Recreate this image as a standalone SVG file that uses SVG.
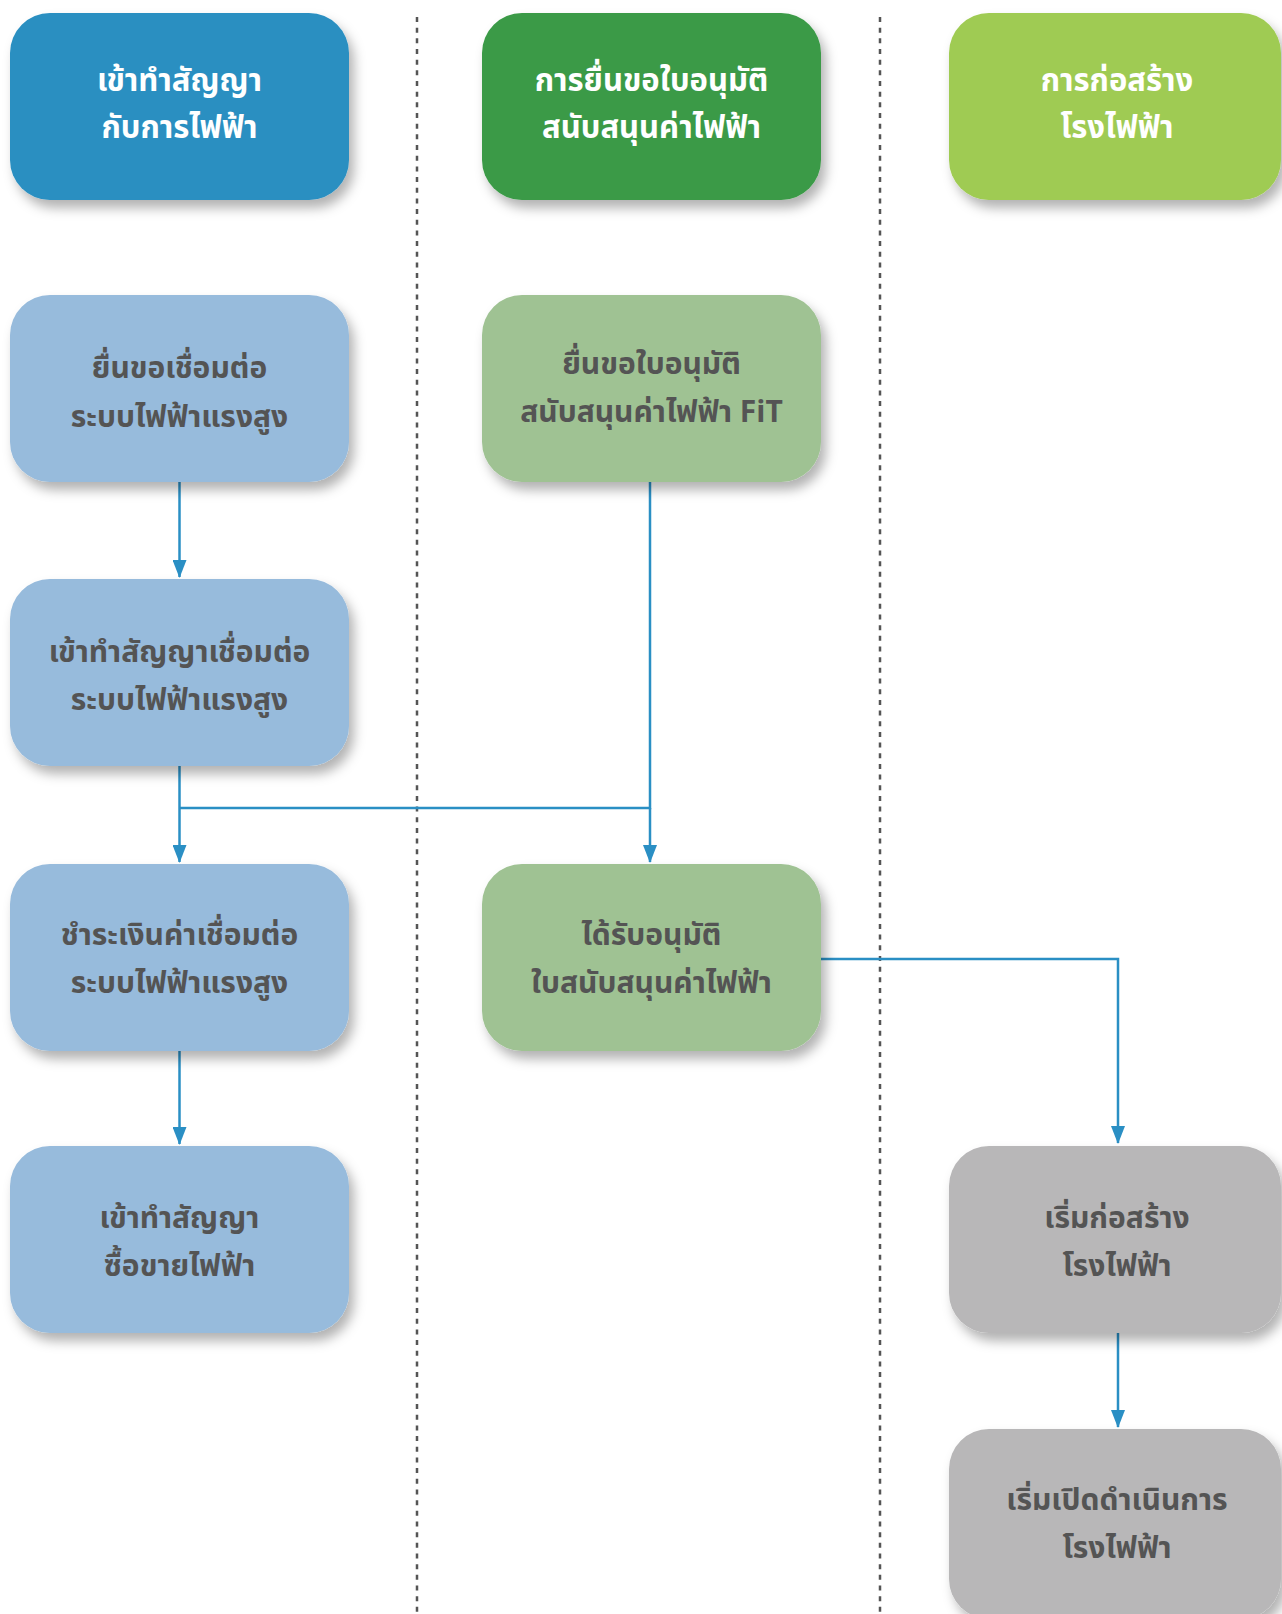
<svg xmlns="http://www.w3.org/2000/svg" width="1282" height="1614" viewBox="0 0 1282 1614">
<style>
.box{filter:url(#sh)}
.t{font-family:"Noto Sans Thai","Noto Sans","DejaVu Sans",sans-serif;font-weight:bold;font-size:30px;text-anchor:middle}
.w{fill:#ffffff;font-size:31px}
.d{fill:#545454}
.c{fill:none;stroke:#2a8fc4;stroke-width:2.5}
.c.a{marker-end:url(#ar)}
.dv{fill:none;stroke:#555555;stroke-width:2.5;stroke-dasharray:5 5.67}
</style>
<defs>
<filter id="sh" x="-20%" y="-20%" width="150%" height="160%">
<feDropShadow dx="5" dy="8" stdDeviation="6" flood-color="#000" flood-opacity="0.3"/>
</filter>
<marker id="ar" markerUnits="userSpaceOnUse" markerWidth="18" markerHeight="14" viewBox="0 0 18 14" refX="17" refY="7" orient="auto">
<path d="M0,0 L18,7 L0,14 Z" fill="#2a8fc4"/>
</marker>
</defs>
<g id="dividers">
<line class="dv" x1="417" y1="17" x2="417" y2="1614"/>
<line class="dv" x1="880" y1="17" x2="880" y2="1614"/>
</g>
<g id="connectors">
<line class="c a" x1="179.5" y1="482" x2="179.5" y2="577"/>
<polyline class="c" points="650,482 650,808 179.5,808"/>
<line class="c a" x1="179.5" y1="766" x2="179.5" y2="862"/>
<line class="c a" x1="650" y1="808" x2="650" y2="862"/>
<line class="c a" x1="179.5" y1="1051" x2="179.5" y2="1144"/>
<polyline class="c a" points="821,959 1118,959 1118,1143"/>
<line class="c a" x1="1118" y1="1333" x2="1118" y2="1427"/>
</g>
<g id="h1"><rect class="box" x="10" y="13" width="339" height="187" rx="40" fill="#2a8fc1"/>
<text class="t w" x="179.5" y="91">เข้าทำสัญญา</text><text class="t w" x="179.5" y="138">กับการไฟฟ้า</text></g>
<g id="h2"><rect class="box" x="482" y="13" width="339" height="187" rx="40" fill="#3a9a46"/>
<text class="t w" x="651.5" y="91">การยื่นขอใบอนุมัติ</text><text class="t w" x="651.5" y="138">สนับสนุนค่าไฟฟ้า</text></g>
<g id="h3"><rect class="box" x="949" y="13" width="332" height="187" rx="40" fill="#9fcb52"/>
<text class="t w" x="1117" y="91">การก่อสร้าง</text><text class="t w" x="1117" y="138">โรงไฟฟ้า</text></g>
<g id="a1"><rect class="box" x="10" y="295" width="339" height="187" rx="40" fill="#97bbdc"/>
<text class="t d" x="179.5" y="378">ยื่นขอเชื่อมต่อ</text><text class="t d" x="179.5" y="427">ระบบไฟฟ้าแรงสูง</text></g>
<g id="b1"><rect class="box" x="482" y="295" width="339" height="187" rx="40" fill="#9fc293"/>
<text class="t d" x="651.5" y="374">ยื่นขอใบอนุมัติ</text><text class="t d" x="651.5" y="422">สนับสนุนค่าไฟฟ้า FiT</text></g>
<g id="a2"><rect class="box" x="10" y="579" width="339" height="187" rx="40" fill="#97bbdc"/>
<text class="t d" x="179.5" y="662">เข้าทำสัญญาเชื่อมต่อ</text><text class="t d" x="179.5" y="710">ระบบไฟฟ้าแรงสูง</text></g>
<g id="a3"><rect class="box" x="10" y="864" width="339" height="187" rx="40" fill="#97bbdc"/>
<text class="t d" x="179.5" y="945">ชำระเงินค่าเชื่อมต่อ</text><text class="t d" x="179.5" y="993">ระบบไฟฟ้าแรงสูง</text></g>
<g id="b2"><rect class="box" x="482" y="864" width="339" height="187" rx="40" fill="#9fc293"/>
<text class="t d" x="651.5" y="945">ได้รับอนุมัติ</text><text class="t d" x="651.5" y="993">ใบสนับสนุนค่าไฟฟ้า</text></g>
<g id="a4"><rect class="box" x="10" y="1146" width="339" height="187" rx="40" fill="#97bbdc"/>
<text class="t d" x="179.5" y="1228">เข้าทำสัญญา</text><text class="t d" x="179.5" y="1276">ซื้อขายไฟฟ้า</text></g>
<g id="c1"><rect class="box" x="949" y="1146" width="332" height="187" rx="40" fill="#b8b7b8"/>
<text class="t d" x="1117" y="1228">เริ่มก่อสร้าง</text><text class="t d" x="1117" y="1276">โรงไฟฟ้า</text></g>
<g id="c2"><rect class="box" x="949" y="1429" width="332" height="190" rx="40" fill="#b8b7b8"/>
<text class="t d" x="1117" y="1510">เริ่มเปิดดำเนินการ</text><text class="t d" x="1117" y="1558">โรงไฟฟ้า</text></g>
</svg>
